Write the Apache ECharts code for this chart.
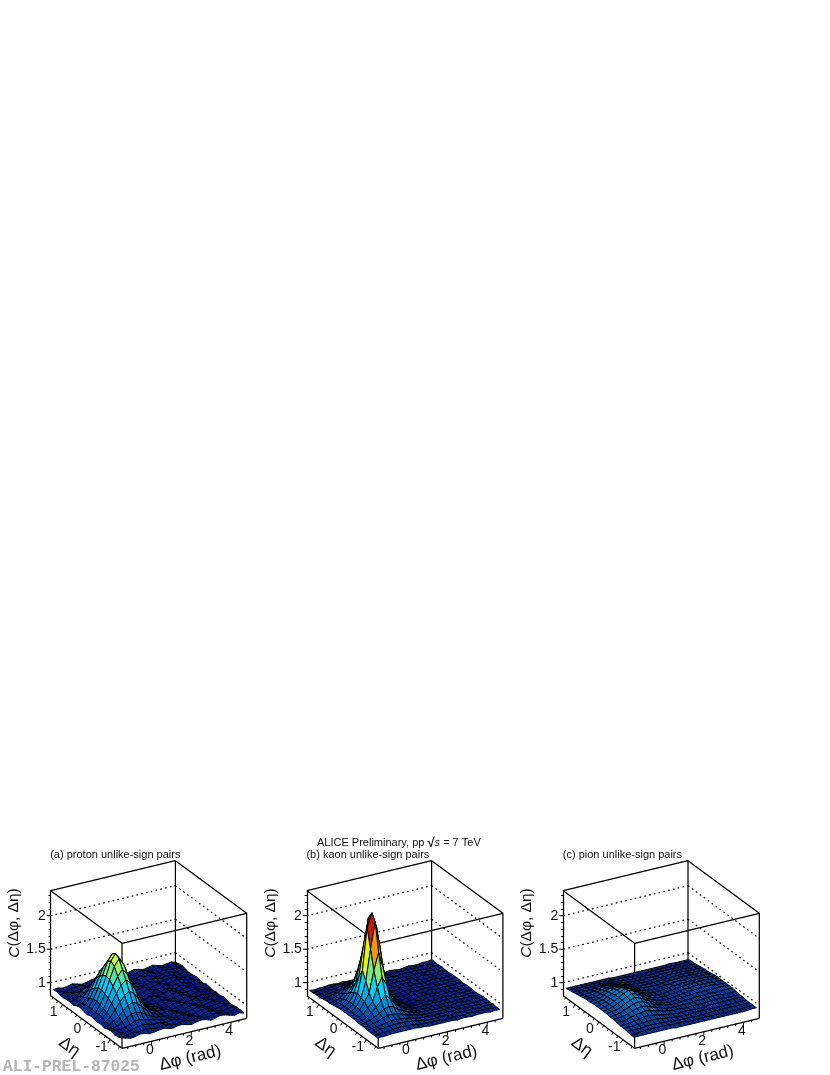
<!DOCTYPE html>
<html>
<head>
<meta charset="utf-8">
<style>html,body{margin:0;padding:0;background:#fff}#c{width:830px;height:1075px}</style>
<script src="https://cdn.jsdelivr.net/npm/echarts@6/dist/echarts.min.js"></script>
</head>
<body>
<div id="c"></div>
<script>
// Values are C x 100. Rows run from eta = +1.43 (back) to eta = -1.43 (front),
// columns from dphi = -1.45 to dphi = 4.72.
const protonRows = [
[91,92,90,91,93,91,89,90,92,93,91,89,91,92,90,88,90,92,91,89,90,92,90,88,89,90,88],
[92,90,89,91,92,93,90,88,90,92,92,90,89,91,92,90,89,91,93,91,88,90,91,89,88,90,89],
[90,92,91,90,92,95,94,92,91,93,93,91,89,90,93,91,88,90,92,92,89,88,91,90,88,89,90],
[90,91,94,93,96,99,99,97,96,95,92,89,90,92,91,89,90,92,93,90,88,90,92,89,88,90,88],
[91,91,92,98,102,105,107,104,100,97,94,91,88,90,92,90,88,91,92,91,89,91,90,88,89,90,87],
[91,93,96,100,108,115,116,115,108,100,94,91,90,92,91,89,90,92,91,88,90,92,91,89,88,89,88],
[90,94,99,107,117,126,131,125,116,105,97,91,89,89,91,92,89,90,92,90,88,90,92,90,88,87,89],
[93,95,101,113,127,138,143,138,125,111,99,91,89,88,90,92,90,88,91,92,89,90,91,88,87,89,88],
[94,97,105,118,134,148,156,147,132,116,101,92,89,87,90,91,88,89,92,91,88,91,90,87,88,90,87],
[92,97,107,122,140,158,168,157,138,119,103,93,88,88,91,90,89,91,93,90,89,90,92,89,87,88,89],
[91,98,108,123,142,163,172,162,140,120,104,93,88,87,90,92,90,88,91,92,90,89,91,90,88,87,88],
[93,96,106,121,140,158,168,158,139,119,103,93,89,88,89,91,90,89,90,93,90,88,90,91,88,89,87],
[92,97,104,118,134,147,156,148,133,116,102,93,90,89,88,90,92,90,88,91,92,90,89,90,89,87,88],
[91,96,102,114,127,138,144,138,126,112,100,93,91,90,89,89,91,92,90,89,91,92,90,88,89,90,87],
[92,94,99,108,118,126,131,126,116,106,98,94,91,92,90,88,90,92,93,90,88,90,92,90,87,88,89],
[90,93,97,102,109,115,118,115,108,101,96,92,90,92,92,90,88,90,92,92,90,88,90,91,89,87,88],
[92,91,93,98,102,106,107,105,101,97,93,92,91,90,92,91,89,89,91,93,91,89,89,91,90,88,86],
[93,92,92,94,96,99,100,98,96,95,93,90,92,91,90,92,90,88,90,92,92,90,88,90,91,89,87],
[91,93,90,92,93,95,96,95,93,93,92,91,93,92,90,90,92,90,88,91,93,91,89,88,90,90,88],
[92,90,91,93,92,92,93,92,91,92,93,92,90,91,92,90,90,92,90,89,91,92,90,88,89,91,88],
[94,92,90,91,93,92,90,91,92,93,91,90,92,92,90,89,91,92,91,88,90,92,91,89,87,89,87]
];
const kaonRows = [
[90,89,90,90,91,91,90,91,90,90,91,90,89,90,91,90,90,91,90,89,90,91,90,90,91,91,92],
[90,90,91,91,92,93,93,93,92,91,91,90,90,90,91,91,90,90,91,90,91,90,90,91,91,90,91],
[91,90,92,93,93,95,95,95,94,93,92,91,90,91,90,91,91,90,91,91,90,91,91,90,91,92,91],
[90,92,93,94,95,97,98,97,95,94,92,91,90,90,91,91,90,91,91,90,91,91,90,91,91,90,92],
[92,93,95,96,99,102,103,101,98,96,94,92,90,90,90,91,91,90,91,91,90,92,91,90,91,91,91],
[93,94,96,99,104,109,111,108,103,98,95,92,91,89,90,90,91,91,90,92,91,90,91,91,92,91,91],
[93,95,97,103,110,118,125,117,109,101,96,93,90,89,89,90,91,90,91,91,90,91,92,91,90,91,92],
[94,96,100,106,115,135,147,134,114,104,97,93,90,88,89,90,90,91,91,90,91,91,91,92,91,91,92],
[95,97,102,112,124,156,180,155,123,109,99,93,90,88,88,89,91,90,91,91,90,92,91,91,92,91,92],
[96,98,103,115,138,184,222,183,137,112,100,94,90,87,88,90,90,91,90,92,91,91,92,91,91,92,91],
[96,98,103,118,150,212,233,210,148,114,100,93,90,87,88,89,90,91,91,91,90,92,91,92,91,92,92],
[96,98,103,115,138,184,223,184,137,113,100,94,91,88,88,90,90,91,92,91,91,92,92,91,92,91,92],
[96,97,102,113,124,156,181,155,123,110,99,94,91,89,89,90,91,91,90,92,92,91,92,92,91,92,92],
[96,97,100,107,115,135,148,135,114,105,98,94,92,90,90,91,91,92,91,92,91,92,92,91,92,92,91],
[95,96,98,104,110,118,126,118,109,103,98,95,92,91,91,91,92,91,92,92,91,92,92,92,93,92,92],
[95,96,98,101,105,110,112,110,104,101,97,95,93,92,92,92,91,92,92,91,92,93,92,92,93,92,93],
[95,95,97,99,102,104,104,103,101,98,96,94,93,92,92,92,92,92,93,92,92,93,92,93,92,93,93],
[94,95,96,97,98,100,100,99,98,97,95,94,93,93,92,93,92,93,92,93,93,92,93,93,92,93,92],
[94,94,96,96,97,98,98,98,97,96,95,94,93,92,93,93,93,92,93,93,92,93,93,92,93,93,93],
[94,94,95,95,96,97,97,96,96,95,94,94,93,93,93,92,93,93,93,92,93,93,92,93,93,92,92],
[94,94,94,95,95,95,95,95,95,94,94,93,93,93,93,93,93,92,93,93,92,93,93,93,92,93,92]
];
const pionRows = [
[93,93,93,93,93,93,93,93,93,93,92,92,92,92,92,92,92,92,92,92,92,92,93,92,92,92,92],
[94,94,94,94,94,95,95,95,94,94,93,93,93,92,92,92,92,93,93,93,93,93,93,93,93,93,93],
[95,95,95,96,96,96,97,96,96,95,95,94,93,93,93,93,93,93,94,94,94,94,94,94,94,93,93],
[96,96,97,97,98,99,99,99,98,97,96,95,94,94,93,94,94,94,95,95,95,95,95,95,94,94,94],
[97,97,98,99,100,102,102,101,100,98,97,95,95,94,94,94,95,95,95,96,96,96,96,95,95,95,95],
[98,98,99,101,103,104,105,104,102,100,98,96,95,95,95,95,95,96,96,96,97,97,97,96,96,96,96],
[99,99,100,102,105,107,108,107,104,101,99,97,96,95,95,95,96,97,97,97,98,98,98,97,97,97,96],
[99,100,101,104,107,110,111,110,106,103,100,97,96,95,95,96,97,97,98,98,98,99,98,98,98,98,97],
[100,101,102,105,108,112,114,112,108,104,100,97,96,95,95,96,97,98,98,99,99,99,99,99,99,98,98],
[100,101,103,106,110,113,116,114,110,105,101,98,96,95,95,96,97,98,99,99,100,100,100,100,99,99,98],
[100,101,103,106,110,114,117,115,111,106,102,98,96,95,95,96,97,98,99,99,100,100,100,100,99,99,98],
[100,101,103,106,110,113,116,114,110,105,101,98,96,95,95,96,97,98,99,99,100,100,100,100,99,99,98],
[100,101,102,105,108,112,114,112,108,104,100,97,96,95,95,96,97,98,98,99,99,99,99,99,99,99,98],
[99,100,101,104,107,110,111,110,106,103,100,98,96,96,95,96,97,97,98,98,98,99,98,98,98,98,98],
[99,99,100,102,105,107,108,107,104,102,99,97,96,96,96,96,96,97,97,97,98,98,98,97,97,97,97],
[98,98,99,101,103,104,105,104,102,100,98,97,96,96,95,95,96,96,96,96,97,97,97,96,96,96,96],
[97,97,98,99,100,102,102,101,100,98,97,96,95,95,95,95,95,95,95,96,96,96,96,96,96,96,96],
[97,97,97,98,98,99,99,99,98,97,96,95,95,95,94,95,95,95,95,95,95,95,95,95,95,95,95],
[96,96,96,96,97,97,97,97,96,96,95,95,94,94,94,94,94,94,95,95,95,95,95,95,95,95,95],
[95,95,95,96,96,96,96,96,96,95,95,95,94,94,94,94,94,94,94,94,94,94,94,94,94,95,95],
[95,95,95,95,95,95,95,95,95,94,94,94,94,94,94,94,94,94,94,94,94,94,94,94,94,95,95]
];
const phiRange = [-1.5, 4.78];
const etaRange = [-1.5, 1.5];
const surfacePhi = [-1.45, 4.72];
const surfaceEta = [-1.43, 1.43];
const zRange = [0.806, 2.373];
const zMajor = [1, 1.5, 2];
const zLabels = ['1', '1.5', '2'];
const zMinor = [0.9,1,1.1,1.2,1.3,1.4,1.5,1.6,1.7,1.8,1.9,2,2.1,2.2,2.3];
const phiMajor = [0, 2, 4];
const phiMinor = [-1.2,-0.8,-0.4,0.4,0.8,1.2,1.6,2.4,2.8,3.2,3.6,4.4];
const etaMajor = [-1, 0, 1];
const etaMinor = [-1.4,-1.2,-0.8,-0.6,-0.4,-0.2,0.2,0.4,0.6,0.8,1.2,1.4];
const panelTitles = ['(a) proton unlike-sign pairs','(b) kaon unlike-sign pairs','(c) pion unlike-sign pairs'];
const panelLefts = [50.7, 306.9, 563.3];
// ROOT rainbow palette
const palRange = [0.82, 2.25];
const palStops = [0, 0.34, 0.61, 0.84, 1];
const palR = [0, 0, 0.87, 1, 0.51];
const palG = [0, 0.81, 1, 0.2, 0];
const palB = [0.51, 1, 0.12, 0, 0];

const FONT = '"Liberation Sans", Arial, sans-serif';
const BOX = {w:195.8, h:105, top:890.7, phiX:124.7, phiY:30, etaX:71.3, etaY:52.6};
const pxPerZ = BOX.h / (zRange[1]-zRange[0]);

function palette(z){
  const t = Math.max(0, Math.min(1, (z-palRange[0])/(palRange[1]-palRange[0])));
  let k = 0; while (k < palStops.length-2 && t > palStops[k+1]) k++;
  const f = (t-palStops[k])/(palStops[k+1]-palStops[k]);
  const m = a => Math.round(255*(a[k]+(a[k+1]-a[k])*f));
  return 'rgb('+m(palR)+','+m(palG)+','+m(palB)+')';
}
// 3D (phi, eta, C) -> the panel's 2D axes (u on the hidden x axis, v on the C axis)
function project(phi, eta, z){
  const f = (phi-phiRange[0])/(phiRange[1]-phiRange[0]);
  const e = (eta-etaRange[0])/(etaRange[1]-etaRange[0]);
  const u = (BOX.etaX + BOX.phiX*f - BOX.etaX*e)/BOX.w;
  const v = z - (BOX.etaY - BOX.phiY*f - BOX.etaY*e)/pxPerZ;
  return [u, v];
}
function surfaceSeries(rows, idx){
  const nR = rows.length, nC = rows[0].length;
  const cells = [];
  for (let r=0; r<nR-1; r++) for (let i=nC-2; i>=0; i--) cells.push([i, r]);
  const phiAt = i => surfacePhi[0]+(surfacePhi[1]-surfacePhi[0])*i/(nC-1);
  const etaAt = r => surfaceEta[1]-(surfaceEta[1]-surfaceEta[0])*r/(nR-1);
  return {
    type:'custom', xAxisIndex:idx, yAxisIndex:idx, data:cells, clip:false, silent:true,
    animation:false, progressive:0, z:3,
    renderItem(params, api){
      const i = api.value(0), r = api.value(1);
      const c = [[i,r],[i+1,r],[i+1,r+1],[i,r+1]];
      let sum = 0;
      const pts = c.map(([a,b])=>{
        const z = rows[b][a]/100; sum += z;
        return api.coord(project(phiAt(a), etaAt(b), z));
      });
      return {type:'polygon', shape:{points:pts},
        style:{fill:palette(sum/4), stroke:'#000', lineWidth:0.95}};
    }
  };
}
function frameSeries(idx){
  return {
    type:'custom', xAxisIndex:idx, yAxisIndex:idx, data:[[0,0]], clip:false, silent:true,
    animation:false, z:2,
    renderItem(params, api){
      const ch = [];
      const P = (f,e,z)=>api.coord(project(phiRange[0]+f*(phiRange[1]-phiRange[0]), etaRange[0]+e*(etaRange[1]-etaRange[0]), z));
      const line = (a,b,extra)=>ch.push({type:'line', shape:{x1:a[0],y1:a[1],x2:b[0],y2:b[1]},
        style:Object.assign({stroke:'#000', lineWidth:1.25}, extra||{})});
      const [z0,z1] = zRange;
      // box
      line(P(0,1,z1),P(1,1,z1)); line(P(1,1,z1),P(1,0,z1)); line(P(1,0,z1),P(0,0,z1)); line(P(0,0,z1),P(0,1,z1));
      line(P(1,1,z0),P(1,1,z1)); line(P(1,0,z0),P(1,0,z1)); line(P(0,0,z0),P(0,0,z1));
      line(P(0,1,z0),P(0,0,z0)); line(P(0,0,z0),P(1,0,z0));
      // dotted grid on back walls
      zMajor.forEach(z=>{
        const d = {lineDash:[1.7,3.2], lineWidth:1.2};
        line(P(0,1,z),P(1,1,z),d); line(P(1,1,z),P(1,0,z),d);
      });
      const thin = {lineWidth:1};
      zMajor.forEach(z=>{const a=P(0,1,z); line([a[0]-4,a[1]],a,thin);});
      // phi ticks
      const fOf = v=>(v-phiRange[0])/(phiRange[1]-phiRange[0]);
      const eOf = v=>(v-etaRange[0])/(etaRange[1]-etaRange[0]);
      phiMajor.forEach((v,k)=>{
        const a=P(fOf(v),0,z0); line(a,[a[0]-0.5,a[1]+4],thin);
        ch.push(txt(String(v),a[0]-2,a[1]+9.2,14));
      });
      phiMinor.forEach(v=>{const a=P(fOf(v),0,z0); line(a,[a[0]-0.3,a[1]+2.2],thin);});
      etaMajor.forEach(v=>{
        const a=P(0,eOf(v),z0); line(a,[a[0]-2,a[1]+3.4],thin);
        ch.push(txt(String(v),a[0]-(v<0?8.5:9),a[1]+7.6,14));
      });
      etaMinor.forEach(v=>{const a=P(0,eOf(v),z0); line(a,[a[0]-1.2,a[1]+2],thin);});
      // axis titles
      const x0 = P(0,1,z0)[0];
      ch.push(txt('C(Δφ, Δη)', x0-36.5, 923, 15.5, Math.PI/2, true));
      ch.push(txt('Δη', x0+18.5, 1047, 17.5, -36*Math.PI/180));
      ch.push(txt('Δφ (rad)', x0+139.5, 1058, 17, 13.6*Math.PI/180));
      return {type:'group', children:ch};
    }
  };
}
function txt(s,x,y,size,rot,italicC){
  const el = {type:'text', x:x, y:y, rotation:rot||0,
    style:{text:s, fill:'#111', font:size+'px '+FONT, align:'center', verticalAlign:'middle'}};
  if (italicC){
    el.style.text = '{i|C}(Δφ, Δη)';
    el.style.rich = {i:{fontStyle:'italic', fontSize:size, fontFamily:FONT, fill:'#111'}};
  }
  return el;
}

const grids=[], xAxes=[], yAxes=[], series=[], titles=[];
panelLefts.forEach((left,idx)=>{
  grids.push({left:left, top:BOX.top, width:BOX.w, height:BOX.h, containLabel:false, show:false});
  xAxes.push({type:'value', gridIndex:idx, min:0, max:1, show:false});
  yAxes.push({type:'value', gridIndex:idx, min:zRange[0], max:zRange[1], position:'left',
    axisLine:{show:true, onZero:false, lineStyle:{color:'#000', width:1.25}},
    axisTick:{show:true, length:2.2, customValues:zMinor, lineStyle:{color:'#000', width:1}},
    axisLabel:{show:true, customValues:zMajor, margin:5, color:'#111', fontSize:14, fontFamily:FONT,
      formatter:v=>zLabels[zMajor.indexOf(v)]},
    splitLine:{show:false}});
  titles.push({text:panelTitles[idx], left:left-0.5, top:849, padding:0,
    textStyle:{fontSize:11, fontWeight:'normal', color:'#111', fontFamily:FONT, lineHeight:12}});
});
titles.push({text:'ALICE Preliminary, pp {r|√}{i|s} = 7 TeV', left:317, top:837, padding:0,
  textStyle:{fontSize:11, fontWeight:'normal', color:'#111', fontFamily:FONT, lineHeight:12,
    rich:{r:{fontSize:13, fontWeight:'bold', fontFamily:FONT, color:'#111'},
          i:{fontSize:11, fontStyle:'italic', fontFamily:FONT, color:'#111'}}}});
[protonRows,kaonRows,pionRows].forEach((rows,idx)=>{
  series.push(frameSeries(idx));
  series.push(surfaceSeries(rows,idx));
});

const chart = echarts.init(document.getElementById('c'), null, {renderer:'canvas', width:830, height:1075});
chart.setOption({
  backgroundColor:'#fff', animation:false, title:titles, grid:grids, xAxis:xAxes, yAxis:yAxes, series:series,
  graphic:[{type:'text', left:3, top:1059, silent:true,
    style:{text:'ALI-PREL-87025', fill:'#b4b4b4', font:'bold 16.3px "Liberation Mono", monospace'}}]
});
</script>
</body>
</html>
